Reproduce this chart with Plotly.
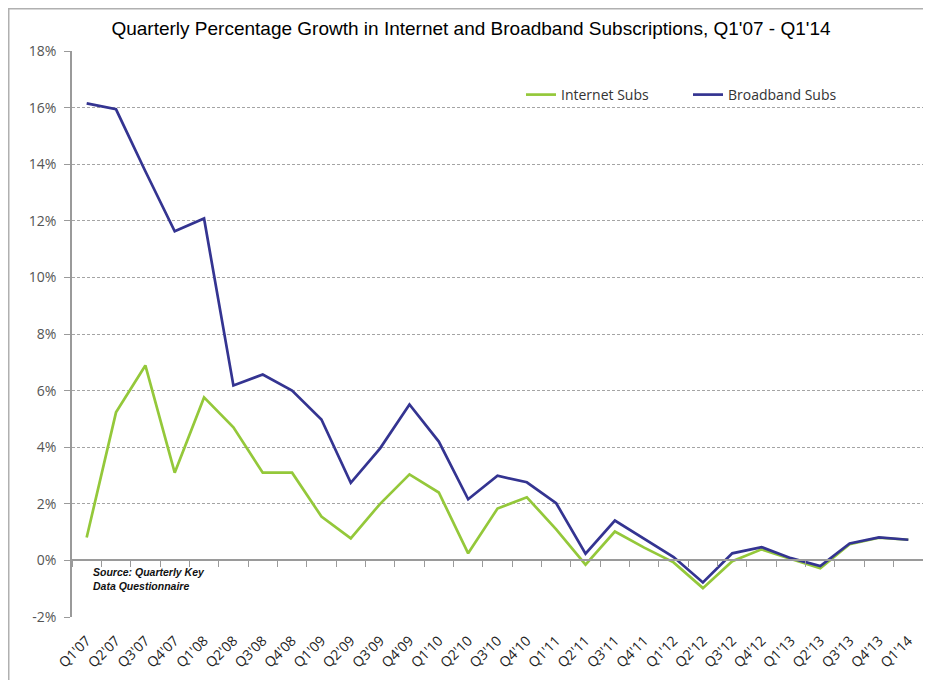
import plotly.graph_objects as go

quarters = ["Q1'07", "Q2'07", "Q3'07", "Q4'07", "Q1'08", "Q2'08", "Q3'08", "Q4'08",
            "Q1'09", "Q2'09", "Q3'09", "Q4'09", "Q1'10", "Q2'10", "Q3'10", "Q4'10",
            "Q1'11", "Q2'11", "Q3'11", "Q4'11", "Q1'12", "Q2'12", "Q3'12", "Q4'12",
            "Q1'13", "Q2'13", "Q3'13", "Q4'13", "Q1'14"]

internet_subs = [0.81, 5.23, 6.89, 3.10, 5.76, 4.70, 3.10, 3.10,
                 1.55, 0.78, 2.00, 3.04, 2.40, 0.25, 1.83, 2.23,
                 1.10, -0.15, 1.02, 0.45, -0.07, -0.98, -0.03, 0.39,
                 0.05, -0.28, 0.57, 0.80, 0.73]

broadband_subs = [16.15, 15.94, 13.75, 11.63, 12.08, 6.18, 6.57, 6.00,
                  4.98, 2.74, 3.96, 5.51, 4.20, 2.16, 2.99, 2.76,
                  2.02, 0.24, 1.41, 0.76, 0.12, -0.78, 0.25, 0.47,
                  0.08, -0.20, 0.60, 0.81, 0.73]

y_ticks = [-2, 0, 2, 4, 6, 8, 10, 12, 14, 16, 18]
y_tick_labels = [f"{v}%" for v in y_ticks]

GREEN = "#94C83A"
BLUE = "#343491"

W, H = 915, 672
L, R, T, B = 64, 0, 43, 63
PW, PH = W - L - R, H - T - B


def px(x):
    return (x - L) / PW


def py(y):
    return (H - B - y) / PH


fig = go.Figure()
fig.add_trace(go.Scatter(x=quarters, y=internet_subs, mode="lines", name="Internet Subs",
                         line=dict(color=GREEN, width=2.7), legend="legend"))
fig.add_trace(go.Scatter(x=quarters, y=broadband_subs, mode="lines", name="Broadband Subs",
                         line=dict(color=BLUE, width=2.7), legend="legend2"))
# invisible trace to create the zero-crossing category axis (ticks at 0%)
fig.add_trace(go.Scatter(x=quarters, y=internet_subs, xaxis="x2", mode="lines",
                         line=dict(width=0), opacity=0, showlegend=False, hoverinfo="skip"))

legend_font = dict(family="Open Sans, Arial", size=14, color="#333333")

fig.update_layout(
    width=W, height=H, autosize=False,
    paper_bgcolor="white", plot_bgcolor="white",
    margin=dict(l=L, r=R, t=T, b=B),
    title=dict(text="Quarterly Percentage Growth in Internet and Broadband Subscriptions, Q1'07 - Q1'14",
               x=463 / W, xanchor="center", y=1 - 20 / H, yanchor="middle",
               font=dict(family="Liberation Sans Narrow, Arial Narrow, Arial", size=19, color="#000000")),
    showlegend=True,
    legend=dict(orientation="h", x=px(513), xanchor="left", y=py(87), yanchor="middle",
                font=legend_font, bgcolor="rgba(0,0,0,0)", itemwidth=30),
    legend2=dict(orientation="h", x=px(680), xanchor="left", y=py(87), yanchor="middle",
                 font=legend_font, bgcolor="rgba(0,0,0,0)", itemwidth=30),
    xaxis=dict(type="category", categoryorder="array", categoryarray=quarters,
               range=[-0.5, len(quarters) - 0.5],
               showgrid=False, showline=False, zeroline=False,
               ticks="outside", ticklen=9, tickcolor="rgba(0,0,0,0)",
               tickangle=-45, tickfont=dict(family="Open Sans, Arial", size=14, color="#222222")),
    xaxis2=dict(type="category", categoryorder="array", categoryarray=quarters,
                range=[-0.5, len(quarters) - 0.5], overlaying="x", anchor="free", position=0.1,
                side="bottom", showline=True, linecolor="#9a9a9a", linewidth=1.5,
                ticks="outside", ticklen=6, tickcolor="#9a9a9a", tickson="boundaries",
                showticklabels=False, showgrid=False, zeroline=False),
    yaxis=dict(range=[-2, 18], tickvals=y_ticks, ticktext=y_tick_labels,
               showgrid=True, gridcolor="#a4a4a4", griddash="3px,2px", gridwidth=1,
               zeroline=False, showline=True, linecolor="#9a9a9a", linewidth=1.5,
               ticks="outside", ticklen=6, tickcolor="#9a9a9a", ticklabelstandoff=5,
               tickfont=dict(family="Open Sans, Arial", size=14, color="#555555")),
    annotations=[dict(text="<b><i>Source: Quarterly Key<br>Data Questionnaire</i></b>",
                      xref="paper", yref="paper", x=px(83), y=py(556), xanchor="left", yanchor="top",
                      align="left", showarrow=False,
                      font=dict(family="Liberation Sans, Arial", size=10.5, color="#111111"))],
    shapes=[dict(type="rect", xref="paper", yref="paper",
                 x0=px(0.75), x1=px(W + 20), y0=py(H + 30), y1=py(0.75),
                 line=dict(color="#b0b0b0", width=1.5), fillcolor="rgba(0,0,0,0)", layer="below")],
)

fig.write_html("out.html")
